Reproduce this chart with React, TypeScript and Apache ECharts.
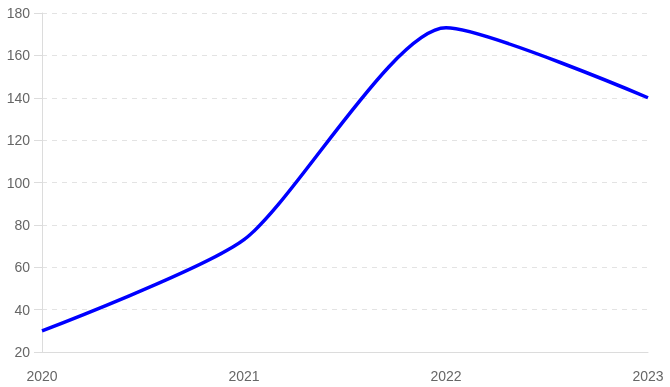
import React, { useEffect, useRef } from "react";
import * as echarts from "echarts";

const categories = ["2020", "2021", "2022", "2023"];
const values = [30, 73, 173, 140];
const yTicks = { min: 20, max: 180, interval: 20 };

export default function App() {
  const ref = useRef<HTMLDivElement>(null);
  useEffect(() => {
    if (!ref.current) return;
    const chart = echarts.init(ref.current, undefined, { renderer: "svg" });
    chart.setOption({
      animation: false,
      grid: { left: 42, right: 22, top: 13, bottom: 35 },
      xAxis: {
        type: "category",
        data: categories,
        boundaryGap: false,
        axisLine: { show: true, lineStyle: { color: "#dcdcdc", width: 1 } },
        axisTick: { show: false },
        axisLabel: {
          color: "#666",
          fontSize: 14,
          fontFamily: "Liberation Sans, Arial, sans-serif",
          margin: 17,
        },
        splitLine: { show: false },
      },
      yAxis: {
        type: "value",
        min: yTicks.min,
        max: yTicks.max,
        interval: yTicks.interval,
        axisLine: { show: true, lineStyle: { color: "#dcdcdc", width: 1 } },
        axisTick: { show: true, length: 8, lineStyle: { color: "#dcdcdc" } },
        axisLabel: {
          color: "#666",
          fontSize: 14,
          fontFamily: "Liberation Sans, Arial, sans-serif",
          margin: 12,
        },
        splitLine: {
          show: true,
          lineStyle: { color: "#e3e3e3", type: [5, 5], width: 1 },
        },
      },
      series: [
        {
          type: "line",
          data: values,
          smooth: 0.22,
          symbol: "none",
          lineStyle: { color: "#0000ff", width: 3.5 },
        },
      ],
    });
    return () => chart.dispose();
  }, []);
  return (
    <div
      ref={ref}
      style={{ position: "fixed", left: 0, top: 0, width: 670, height: 387 }}
    />
  );
}
